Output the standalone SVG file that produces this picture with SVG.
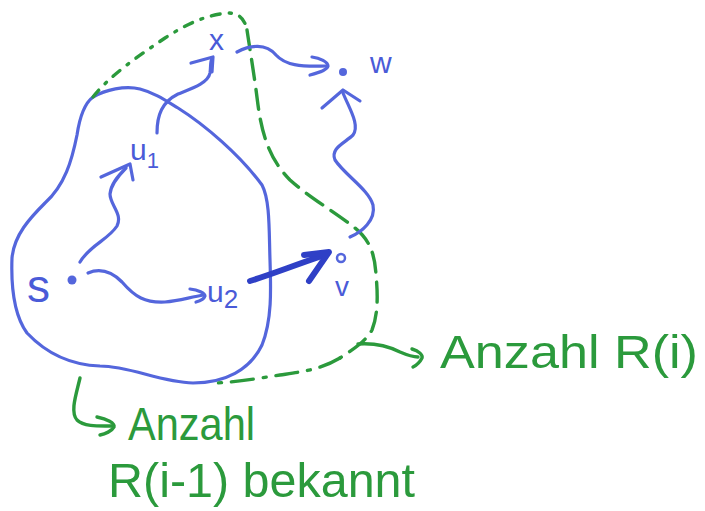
<svg xmlns="http://www.w3.org/2000/svg" width="705" height="511" viewBox="0 0 705 511">
  <style>
    .blue { fill: none; stroke: #5466dc; stroke-width: 3.2; stroke-linecap: round; stroke-linejoin: round; }
    .blue-dark { fill: none; stroke: #2f40c6; stroke-width: 6; stroke-linecap: round; stroke-linejoin: round; }
    .green { fill: none; stroke: #2b9a3c; stroke-width: 3.4; stroke-linecap: round; stroke-linejoin: round; }
    .dash-dot { stroke-dasharray: 9 9 2 9; }
    .dash { stroke-dasharray: 20 10; }
    .dash-long { stroke-dasharray: 22 10 3 10; }
    .dot { fill: #5466dc; }
    .lbl-blue { font-family: "Liberation Sans", "DejaVu Sans", sans-serif; fill: #4a5bd8; }
    .lbl-green { font-family: "Liberation Sans", "DejaVu Sans", sans-serif; fill: #2b9a3c; }
  </style>
  <rect width="705" height="511" fill="#ffffff"/>

  <!-- region reached within i-1 steps -->
  <g id="region-R-i-1">
    <path class="blue" d="M93,97 C105,90 125,85 140,89 C155,93 165,100 178,108 C205,125 240,155 262,185 C270,200 269,230 270,260 C271,290 272,320 262,345 C250,370 225,383 193,383 C160,382 130,366 100,366 C70,365 45,352 27,333 C14,315 11,285 12,258 C14,235 30,218 45,203 C65,185 72,160 77,135 C80,115 85,103 93,97 Z"/>
  </g>

  <!-- region reached within i steps (dashed) -->
  <g id="region-R-i">
    <path class="green dash-dot" d="M93,97 C110,75 140,55 165,38 C185,25 205,15 228,13 C240,13 245,20 247,30"/>
    <path class="green dash" d="M247,30 C250,50 255,80 258,105 C262,135 270,160 290,180 C310,198 335,212 355,228 C370,240 375,255 376,275 C378,295 378,315 372,330 C365,342 355,348 340,358"/>
    <path class="green dash-long" d="M340,358 C320,370 300,372 280,375 C260,378 240,382 215,383"/>
  </g>

  <!-- vertices -->
  <g id="node-s">
    <circle class="dot" cx="72" cy="280" r="4.5"/>
    <text class="lbl-blue" x="27" y="302" font-size="46">s</text>
  </g>
  <g id="node-u1">
    <text class="lbl-blue" x="130" y="160" font-size="30">u<tspan font-size="22" dy="8">1</tspan></text>
  </g>
  <g id="node-u2">
    <text class="lbl-blue" x="207" y="302" font-size="30">u<tspan font-size="26" dy="6">2</tspan></text>
  </g>
  <g id="node-x">
    <text class="lbl-blue" x="209" y="50" font-size="30">x</text>
  </g>
  <g id="node-w">
    <circle class="dot" cx="343" cy="72" r="4"/>
    <text class="lbl-blue" x="370" y="73" font-size="30">w</text>
  </g>
  <g id="node-v">
    <circle cx="341" cy="258" r="4" fill="none" stroke="#5466dc" stroke-width="2.5"/>
    <text class="lbl-blue" x="335" y="296" font-size="28">v</text>
  </g>

  <!-- paths between vertices -->
  <g id="connectors">
    <!-- s ~> u1 -->
    <path class="blue" d="M80,262 C90,245 108,240 117,226 C123,214 110,205 110,194 C111,184 118,176 126,168"/>
    <path class="blue" d="M101,177 L130,164 L133,180"/>
    <!-- u1 ~> x -->
    <path class="blue" d="M157,133 C157,115 162,102 178,94 C193,88 208,83 210,73 C211,66 210,62 212,59"/>
    <path class="blue" d="M191,63 L213,57 L212,72"/>
    <!-- x ~> w -->
    <path class="blue" d="M237,52 C250,45 266,43 276,55 C285,65 300,67 326,66"/>
    <path class="blue" d="M312,57 C320,58 328,62 328,66 C327,70 318,73 310,75"/>
    <!-- v ~> w -->
    <path class="blue" d="M350,237 C362,232 376,220 373,205 C369,190 345,175 335,160 C330,148 345,143 353,135 C360,125 350,110 343,93"/>
    <path class="blue" d="M322,108 L343,90 L360,101"/>
    <!-- s ~> u2 -->
    <path class="blue" d="M88,273 C100,268 112,272 122,282 C135,297 145,303 165,302 C180,301 190,297 204,295"/>
    <path class="blue" d="M190,289 C198,290 205,293 205,296 C204,299 200,301 196,302"/>
    <!-- edge u2 -> v -->
    <path class="blue-dark" d="M250,281 C270,275 295,265 322,256"/>
    <path class="blue-dark" d="M304,255 L329,252 L309,281"/>

    <!-- annotation arrows -->
    <path class="green" d="M358,344 C372,343 388,346 400,352 C407,355 412,357 418,357"/>
    <path class="green" d="M412,349 C419,351 423,355 422,358 C420,362 417,365 413,367"/>
    <path class="green" d="M80,378 C76,395 70,412 77,420 C84,427 100,426 112,426"/>
    <path class="green" d="M97,417 C107,419 115,423 114,427 C112,431 105,434 100,435"/>
  </g>

  <!-- annotations -->
  <g id="label-R-i">
    <text class="lbl-green" x="440" y="368" font-size="46" textLength="258" lengthAdjust="spacingAndGlyphs">Anzahl R(i)</text>
  </g>
  <g id="label-R-i-1">
    <text class="lbl-green" x="128" y="440" font-size="46" textLength="127" lengthAdjust="spacingAndGlyphs">Anzahl</text>
    <text class="lbl-green" x="108" y="497" font-size="48" textLength="307" lengthAdjust="spacingAndGlyphs">R(i-1) bekannt</text>
  </g>
</svg>
